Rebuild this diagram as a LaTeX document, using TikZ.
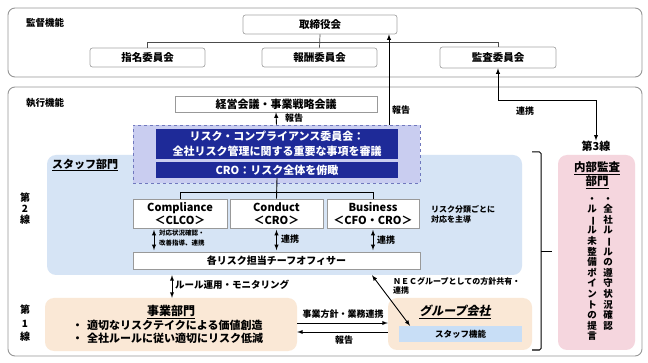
\documentclass[tikz,border=0pt]{standalone}
\usepackage{fontspec}
\usepackage{graphicx}
\setmainfont{Noto Sans CJK JP}
\newfontfamily\slantjp{Noto Sans CJK JP}[FakeSlant=0.2]

\definecolor{navyfill}{RGB}{30,42,152}
\definecolor{lavenderbg}{RGB}{201,205,240}
\definecolor{dashblue}{RGB}{112,120,190}
\definecolor{staffblue}{RGB}{214,228,245}
\definecolor{kinoblue}{RGB}{200,222,246}
\definecolor{peachbg}{RGB}{250,232,214}
\definecolor{pinkbg}{RGB}{245,214,222}
\definecolor{panelgray}{RGB}{150,150,150}

% long vowel mark for vertical text
\newcommand{\tatebo}{\rotatebox[origin=c]{-90}{ー}}

\tikzset{
  panel/.style={draw=panelgray, line width=0.9pt, rounded corners=7pt},
  tag/.style={inner sep=0pt, font=\bfseries\fontsize{9.5}{11}\selectfont},
  orgbox/.style={draw=gray!70, line width=0.7pt, rounded corners=2.5pt, fill=white, inner sep=0pt, font=\bfseries\fontsize{10.5}{12}\selectfont},
  plainbox/.style={draw=gray!80, line width=0.7pt, fill=white, inner sep=0pt, font=\bfseries\fontsize{10}{12}\selectfont},
  navybox/.style={fill=navyfill, text=white, inner sep=0pt, align=center, font=\bfseries\fontsize{11}{15.5}\selectfont},
  riskbox/.style={draw=gray!80, line width=0.7pt, fill=white, inner sep=0pt, minimum height=29, align=center, font=\bfseries\fontsize{11}{13}\selectfont},
  region/.style={rounded corners=9pt, inner sep=0pt},
  orgline/.style={draw=black!70, line width=0.7pt},
  link/.style={draw=black, line width=0.9pt},
  note/.style={inner sep=0pt, font=\bfseries\fontsize{9}{11}\selectfont},
  smallnote/.style={inner sep=0pt, align=left, font=\bfseries\fontsize{6.5}{10}\selectfont},
  linetag/.style={inner sep=0pt, align=center, font=\bfseries\fontsize{10}{11}\selectfont},
  tatecol/.style={anchor=north, inner sep=0pt, align=center, font=\bfseries\fontsize{9.5}{10.6}\selectfont},
}

\begin{document}
\begin{tikzpicture}[x=1pt, y=-1pt, >=latex]
    \useasboundingbox (0,0) rectangle (648,363);

    % Supervision (top panel)
    \draw[panel, fill=white] (8,8) rectangle (642,77);
    \node[tag, anchor=west] (kantoku) at (26,23) {監督機能};
    \node[orgbox, minimum width=154, minimum height=19] (tori) at (320,24.5) {取締役会};
    \node[orgbox, minimum width=115, minimum height=19] (shimei) at (147.5,57.5) {指名委員会};
    \node[orgbox, minimum width=115, minimum height=19] (houshu) at (319.5,57.5) {報酬委員会};
    \node[orgbox, minimum width=116, minimum height=21] (kansa) at (498,57.5) {監査委員会};

    \coordinate (bar) at (0,42);
    \draw[orgline] (tori.south) -- (houshu.north);
    \draw[orgline] (shimei.north) -- (shimei.north |- bar) -- (kansa.north |- bar) -- (kansa.north);

    % Execution (bottom panel)
    \draw[panel, fill=white] (8,87) rectangle (642,356);
    \node[tag, anchor=west] (shikko) at (26,103) {執行機能};
    \node[plainbox, minimum width=202, minimum height=16, font=\bfseries\fontsize{11}{12}\selectfont] (keiei) at (276,104) {経営会議・事業戦略会議};

    % Staff departments (2nd line)
    \node[region, fill=staffblue, minimum width=475, minimum height=120] (staff) at (284.5,215) {};
    \node[anchor=west, inner sep=0pt, font=\bfseries\fontsize{11}{12}\selectfont] (stafftitle) at (52,165) {\underline{スタッフ部門}};
    \node[linetag] (line2) at (25,209) {第\\2\\線};

    % Risk committee
    \node[draw=dashblue, dashed, line width=0.8pt, fill=lavenderbg, minimum width=287, minimum height=58, inner sep=0pt] (rcarea) at (276.5,154) {};
    \node[navybox, minimum width=242, minimum height=30] (riskcom) at (277,144) {リスク・コンプライアンス委員会：\\全社リスク管理に関する重要な事項を審議};
    \node[navybox, minimum width=242, minimum height=16] (cro) at (277,170) {CRO：リスク全体を俯瞰};

    % Risk categories
    \node[riskbox, minimum width=94] (comp) at (180,213.5) {Compliance\\＜CLCO＞};
    \node[riskbox, minimum width=93] (cond) at (276.5,213.5) {Conduct\\＜CRO＞};
    \node[riskbox, minimum width=92] (bus) at (373,213.5) {Business\\＜CFO・CRO＞};
    \node[note, anchor=west, align=left, font=\bfseries\fontsize{8}{9.5}\selectfont] (bunrui) at (431,214.5) {リスク分類ごとに\\対応を主導};

    \coordinate (fork) at (0,192);
    \draw[link] (cro.south) -- (cond.north);
    \draw[link] (comp.north) -- (comp.north |- fork) -- (bus.north |- fork) -- (bus.north);

    \node[plainbox, minimum width=287, minimum height=17] (chief) at (276.5,260.5) {各リスク担当チーフオフィサー};

    \coordinate (ca) at (154,0);
    \draw[link, <->, shorten >=1.5pt, shorten <=1.5pt] (comp.south -| ca) -- (chief.north -| ca);
    \node[smallnote, anchor=west] (calbl) at (159,238) {対応状況確認・\\改善指導、連携};
    \draw[link, <->, shorten >=1.5pt, shorten <=1.5pt] (cond.south) -- (chief.north -| cond.south);
    \node[note, anchor=west] (condlbl) at (281,239) {連携};
    \draw[link, <->, shorten >=1.5pt, shorten <=1.5pt] (bus.south) -- (chief.north -| bus.south);
    \node[note, anchor=west] (buslbl) at (377,240) {連携};

    % Reports upwards
    \draw[link, ->] (rcarea.north) -- (keiei.south);
    \node[note, anchor=west] (rep1) at (285,118) {報告};
    \coordinate (hk) at (389,0);
    \draw[link, ->] (hk |- rcarea.north) -- (hk |- tori.south);
    \node[note, anchor=west] (rep2) at (392,110) {報告};

    % Internal audit (3rd line)
    \node[linetag, font=\bfseries\fontsize{11}{12}\selectfont] (line3) at (596,146) {第3線};
    \coordinate (bend) at (0,100);
    \draw[link, <->] (kansa.south) -- (kansa.south |- bend) -| (line3.north);
    \node[note, anchor=west] (renkei) at (516,111) {連携};

    \node[region, fill=pinkbg, minimum width=77, minimum height=195] (audit) at (596.5,252.5) {};
    \node[inner sep=0pt, align=center, font=\bfseries\fontsize{11.5}{14}\selectfont] (audittitle) at (597,175) {\underline{内部監査}\\\underline{部門}};
    \node[tatecol] (tate1) at (608,197) {・\\全\\社\\ル\\\tatebo\\ル\\の\\遵\\守\\状\\況\\確\\認};
    \node[tatecol] (tate2) at (592,197) {・\\ル\\\tatebo\\ル\\未\\整\\備\\ポ\\イ\\ン\\ト\\の\\提\\言};

    % Brace over 1st and 2nd line
    \draw[black, line width=1pt, rounded corners=1.5pt] (532,152) -- (541,152) -- (541,350) -- (532,350);
    \draw[black, line width=1pt] (541,252) -- (552,252);

    % Business units (1st line)
    \node[region, fill=peachbg, minimum width=252, minimum height=53] (jigyo) at (171,324.5) {};
    \node[inner sep=0pt, font=\bfseries\fontsize{12}{13}\selectfont] (jigyotitle) at (171,312) {\underline{事業部門}};
    \node[inner sep=0pt, anchor=west, align=left, font=\bfseries\fontsize{11}{13}\selectfont] (jigyotext) at (72,331.5) {・\hspace{4pt}適切なリスクテイクによる価値創造\\・\hspace{4pt}全社ルールに従い適切にリスク低減};
    \node[linetag, font=\bfseries\fontsize{10}{13.5}\selectfont] (line1) at (25,323.5) {第\\1\\線};

    \coordinate (ra) at (172,0);
    \draw[link, <->] (staff.south -| ra) -- (jigyo.north -| ra);
    \node[note, anchor=west, font=\bfseries\fontsize{9.5}{11}\selectfont] (rulelbl) at (175,285) {ルール運用・モニタリング};

    % Group companies
    \node[region, fill=peachbg, minimum width=144, minimum height=52] (group) at (460,324) {};
    \node[inner sep=0pt, font=\slantjp\bfseries\fontsize{12}{13}\selectfont] (grouptitle) at (455,312) {\underline{グループ会社}};
    \node[fill=kinoblue, minimum width=123, minimum height=16, inner sep=0pt, font=\bfseries\fontsize{8.5}{10}\selectfont] (kino) at (460.5,334) {スタッフ機能};

    \coordinate (pa) at (0,323);
    \coordinate (pb) at (0,332);
    \draw[link, ->] (jigyo.east |- pa) -- (group.west |- pa);
    \node[note, anchor=south] (hoshin) at (343,319) {事業方針・業務連携};
    \draw[link, <-] (jigyo.east |- pb) -- (group.west |- pb);
    \node[note, anchor=north] (rep3) at (344,336) {報告};

    \coordinate (na) at (372,0);
    \coordinate (nb) at (410,0);
    \draw[link, <->] (staff.south -| na) -- (kino.north -| nb);
    \node[note, anchor=north west, align=left, font=\bfseries\fontsize{8}{9}\selectfont] (neclbl) at (393,277) {ＮＥＣグループとしての方針共有・\\連携};
\end{tikzpicture}
\end{document}
